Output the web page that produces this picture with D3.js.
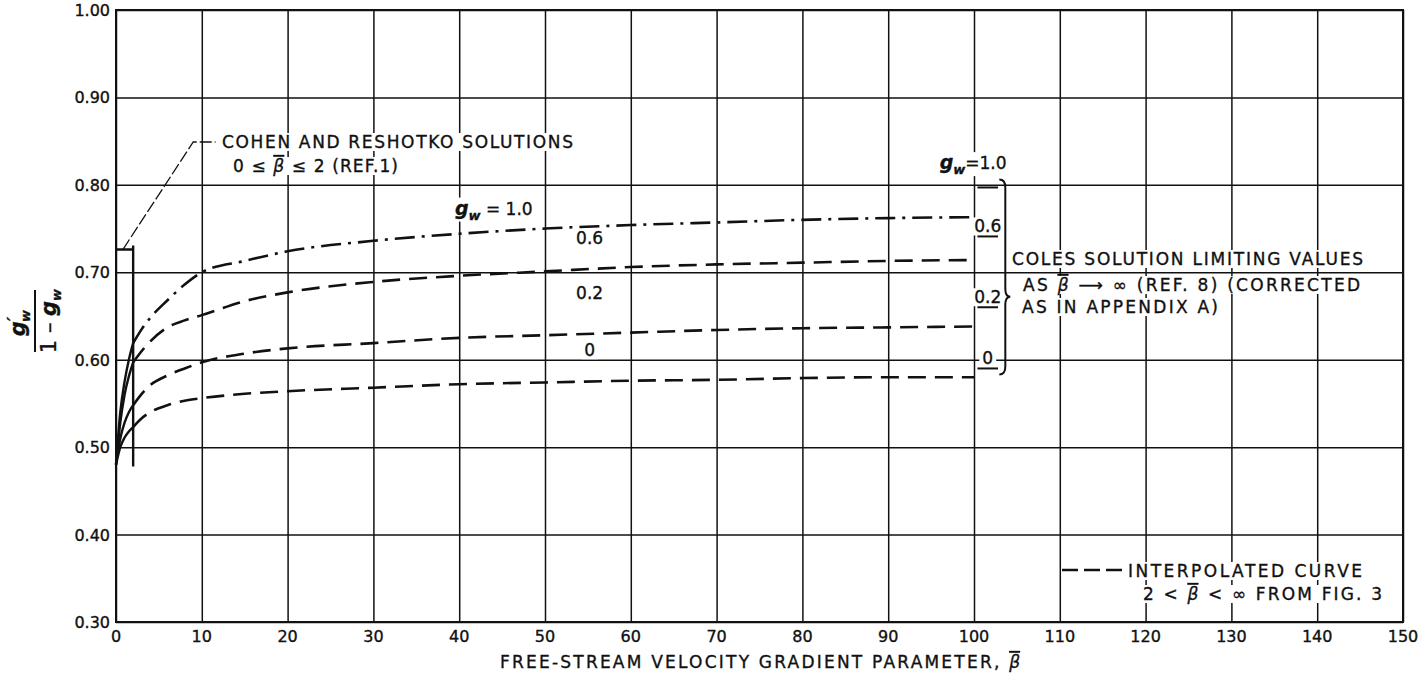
<!DOCTYPE html>
<html>
<head>
<meta charset="utf-8">
<script src="https://cdn.jsdelivr.net/npm/d3@7"></script>
<style>
body { margin: 0; background: #fff; }
svg text { font-family: "DejaVu Sans", sans-serif; fill: #111; stroke: #111; stroke-width: 0.35px; }
</style>
</head>
<body>
<svg id="chart" width="1419" height="680"></svg>
<script>
// ---- data ----
const xTickValues = [0, 10, 20, 30, 40, 50, 60, 70, 80, 90, 100, 110, 120, 130, 140, 150];
const yTickValues = [0.30, 0.40, 0.50, 0.60, 0.70, 0.80, 0.90, 1.00];

const gwLevels = ["1.0", "0.6", "0.2", "0"];

// Cohen & Reshotko solutions, 0 <= beta <= 2 (solid)
const betaCohen = [0, 0.5, 1, 1.5, 2];
const cohenGw10 = [0.480, 0.540, 0.575, 0.600, 0.619];
const cohenGw06 = [0.480, 0.528, 0.560, 0.581, 0.597];
const cohenGw02 = [0.480, 0.510, 0.528, 0.540, 0.548];
const cohenGw00 = [0.480, 0.500, 0.511, 0.518, 0.523];

// interpolated curves, 2 < beta < inf (dashed)
const betaInterp = [2, 3, 4, 6, 8, 10, 15, 20, 30, 40, 50, 60, 70, 80, 90, 100];
const interpGw10 = [0.619, 0.635, 0.648, 0.668, 0.686, 0.700, 0.713, 0.724, 0.736, 0.744, 0.750, 0.754, 0.757, 0.760, 0.762, 0.763];
const interpGw06 = [0.597, 0.610, 0.621, 0.637, 0.645, 0.651, 0.667, 0.677, 0.689, 0.696, 0.701, 0.706, 0.709, 0.711, 0.713, 0.714];
const interpGw02 = [0.548, 0.561, 0.571, 0.582, 0.590, 0.597, 0.607, 0.613, 0.619, 0.625, 0.628, 0.631, 0.634, 0.636, 0.637, 0.638];
const interpGw00 = [0.523, 0.533, 0.540, 0.548, 0.553, 0.556, 0.561, 0.564, 0.568, 0.572, 0.574, 0.576, 0.577, 0.579, 0.580, 0.580];

// Coles limiting values as beta -> infinity
const colesLimits = [0.797, 0.741, 0.660, 0.590];

// range of the Cohen & Reshotko bracket
const cohenBracket = [0, 2, 0.478, 0.726];

// ---- layout ----
const margin = {left: 116, right: 16, top: 10, bottom: 58};
const width = 1419, height = 680;
const innerWidth = width - margin.left - margin.right;
const innerHeight = height - margin.top - margin.bottom;

const svg = d3.select('#chart');

const x = d3.scaleLinear().domain([0, 150]).range([margin.left, margin.left + innerWidth]);
const y = d3.scaleLinear().domain([0.30, 1.00]).range([margin.top + innerHeight, margin.top]);

const ink = '#111';

// grid
const gx = svg.append('g')
    .attr('transform', `translate(0, ${margin.top + innerHeight})`)
    .call(d3.axisBottom(x).tickValues(xTickValues).tickSize(-innerHeight).tickFormat(''));

const gy = svg.append('g')
    .attr('transform', `translate(${margin.left}, 0)`)
    .call(d3.axisLeft(y).tickValues(yTickValues).tickSize(-innerWidth).tickFormat(''));

[gx, gy].forEach(g => {
    g.select('.domain').remove();
    g.selectAll('text').remove();
    g.selectAll('line').style('stroke', ink).style('stroke-width', 1.5);
});

// tick labels
svg.append('g').selectAll('text')
    .data(xTickValues)
    .join('text')
        .attr('x', d => x(d))
        .attr('y', margin.top + innerHeight + 20)
        .attr('text-anchor', 'middle')
        .style('font-size', '16px')
        .text(d3.format('d'));

svg.append('g').selectAll('text')
    .data(yTickValues)
    .join('text')
        .attr('x', margin.left - 6)
        .attr('y', d => y(d) + 6)
        .attr('text-anchor', 'end')
        .style('font-size', '16px')
        .text(d3.format('.2f'));

// frame
svg.append('rect')
    .attr('x', margin.left).attr('y', margin.top)
    .attr('width', innerWidth).attr('height', innerHeight)
    .style('fill', 'none').style('stroke', ink).style('stroke-width', 2);

// white boxes behind annotation text, then the text itself
const annot = svg.append('g');
function label(px, py, parts, opts = {}) {
    const t = annot.append('text')
        .attr('x', px).attr('y', py)
        .style('font-size', (opts.size || 17) + 'px')
        .attr('text-anchor', opts.anchor || 'start');
    parts.forEach(p => {
        const s = t.append('tspan').text(p.t);
        if (p.italic) s.style('font-style', 'italic');
        if (p.bold) s.style('font-weight', 'bold');
        if (p.over) s.style('text-decoration', 'overline');
        if (p.dy) s.attr('dy', p.dy);
        if (p.size) s.style('font-size', p.size + 'px');
    });
    if (opts.len) t.attr('textLength', opts.len).attr('lengthAdjust', 'spacing');
    if (opts.blank !== false) {
        const b = t.node().getBBox();
        annot.insert('rect', 'text')
            .attr('x', b.x - 3).attr('y', b.y + 1)
            .attr('width', b.width + 6).attr('height', b.height - 2)
            .style('fill', '#fff').style('stroke', 'none');
    }
    return t;
}

// curves
const line = d3.line()
    .x(d => x(d[0]))
    .y(d => y(d[1]))
    .curve(d3.curveMonotoneX);

const cohenSeries = [cohenGw10, cohenGw06, cohenGw02, cohenGw00];
const interpSeries = [interpGw10, interpGw06, interpGw02, interpGw00];

// curve labels (drawn first so the curves stay on top of their white boxes)
label(x(39.5), y(0.766), [{t: 'g', italic: true, bold: true, size: 19}, {t: 'w', italic: true, bold: true, size: 13, dy: 5}, {t: ' = 1.0', dy: -5}]);
label(x(55.2), y(0.732), [{t: '0.6'}], {anchor: 'middle'});
label(x(55.2), y(0.669), [{t: '0.2'}], {anchor: 'middle'});
label(x(55.2), y(0.604), [{t: '0'}], {anchor: 'middle'});

svg.append('g').selectAll('path')
    .data(cohenSeries)
    .join('path')
        .attr('d', s => line(s.map((v, i) => [betaCohen[i], v])))
        .style('fill', 'none')
        .style('stroke', ink)
        .style('stroke-width', 2.4);

svg.append('g').selectAll('path')
    .data(interpSeries)
    .join('path')
        .attr('d', s => line(s.map((v, i) => [betaInterp[i], v])))
        .style('fill', 'none')
        .style('stroke', ink)
        .style('stroke-width', 2.6)
        .style('stroke-dasharray', (s, i) => i === 0 ? '20,7,3,7' : '18,9');

// Cohen & Reshotko bracket
const [b0, b1, bLow, bTop] = cohenBracket;
svg.append('path')
    .attr('d', `M${x(b0)},${y(bTop)} H${x(b1)} M${x(b1)},${y(bTop) - 4} V${y(bLow)}`)
    .style('fill', 'none').style('stroke', ink).style('stroke-width', 2.4);

// leader line to the bracket
svg.append('path')
    .attr('d', `M${x(0.8)},${y(bTop)} L${x(9)},${y(0.849)} H${x(11.6)}`)
    .style('fill', 'none').style('stroke', ink).style('stroke-width', 1.3)
    .style('stroke-dasharray', '12,3');

label(222, 148, [{t: 'COHEN AND RESHOTKO SOLUTIONS'}], {len: 351});
label(233, 172, [{t: '0 ≤ '}, {t: 'β', italic: true, over: true}, {t: ' ≤ 2 (REF.1)'}], {len: 165});

// Coles limiting values
label(x(96), y(0.818), [{t: 'g', italic: true, bold: true, size: 19}, {t: 'w', italic: true, bold: true, size: 13, dy: 5}, {t: '=1.0', dy: -5}]);
svg.append('g').selectAll('line')
    .data(colesLimits)
    .join('line')
        .attr('x1', x(100.4)).attr('x2', x(102.8))
        .attr('y1', d => y(d)).attr('y2', d => y(d))
        .style('stroke', ink).style('stroke-width', 2);
gwLevels.slice(1).forEach((g, i) => {
    label(x(101.6), y(colesLimits[i + 1]) - 4, [{t: g}], {anchor: 'middle'});
});

// brace
const bx = x(103.3), byTop = y(colesLimits[0]) - 8, byBot = y(colesLimits[3]) + 6, byMid = y(0.672);
svg.append('path')
    .attr('d', `M${bx - 3},${byTop} Q${bx + 3},${byTop} ${bx + 3},${byTop + 8} V${byMid - 8} Q${bx + 3},${byMid} ${bx + 8},${byMid} Q${bx + 3},${byMid} ${bx + 3},${byMid + 8} V${byBot - 8} Q${bx + 3},${byBot} ${bx - 3},${byBot}`)
    .style('fill', 'none').style('stroke', ink).style('stroke-width', 2);

label(1012, 265, [{t: 'COLES SOLUTION LIMITING VALUES'}], {len: 351});
label(1023, 291, [{t: 'AS '}, {t: 'β', italic: true, over: true}, {t: ' ⟶ ∞ (REF. 8) (CORRECTED'}], {len: 337});
label(1022, 313, [{t: 'AS IN APPENDIX A)'}], {len: 196});

// legend
svg.append('line')
    .attr('x1', 1062).attr('x2', 1127).attr('y1', 570).attr('y2', 570)
    .style('stroke', ink).style('stroke-width', 2.4).style('stroke-dasharray', '16,6');
label(1128, 577, [{t: 'INTERPOLATED CURVE'}], {len: 234});
label(1143, 600, [{t: '2 < '}, {t: 'β', italic: true, over: true}, {t: ' < ∞  FROM FIG. 3'}], {len: 239});

// axis titles
label(500, 668, [{t: 'FREE-STREAM VELOCITY GRADIENT PARAMETER, '}, {t: 'β', italic: true, over: true}], {len: 520, blank: false, size: 17});

const yt = svg.append('g').attr('transform', 'translate(35, 321) rotate(-90)');
yt.append('line').attr('x1', -31).attr('x2', 31).attr('y1', 0).attr('y2', 0)
    .style('stroke', ink).style('stroke-width', 2);
const num = yt.append('text').attr('x', -2).attr('y', -10).attr('text-anchor', 'middle')
    .style('font-size', '21px').style('font-weight', 'bold').style('font-style', 'italic');
num.append('tspan').text('g');
num.append('tspan').text('′').attr('dy', -6).style('font-size', '16px');
num.append('tspan').text('w').attr('dx', -5).attr('dy', 11).style('font-size', '13px');
const den = yt.append('text').attr('x', 0).attr('y', 21).attr('text-anchor', 'middle')
    .style('font-size', '21px').style('font-weight', 'bold');
den.append('tspan').text('1 – ').style('font-weight', 'normal');
den.append('tspan').text('g').style('font-style', 'italic');
den.append('tspan').text('w').attr('dy', 5).style('font-size', '13px').style('font-style', 'italic');
</script>
</body>
</html>
